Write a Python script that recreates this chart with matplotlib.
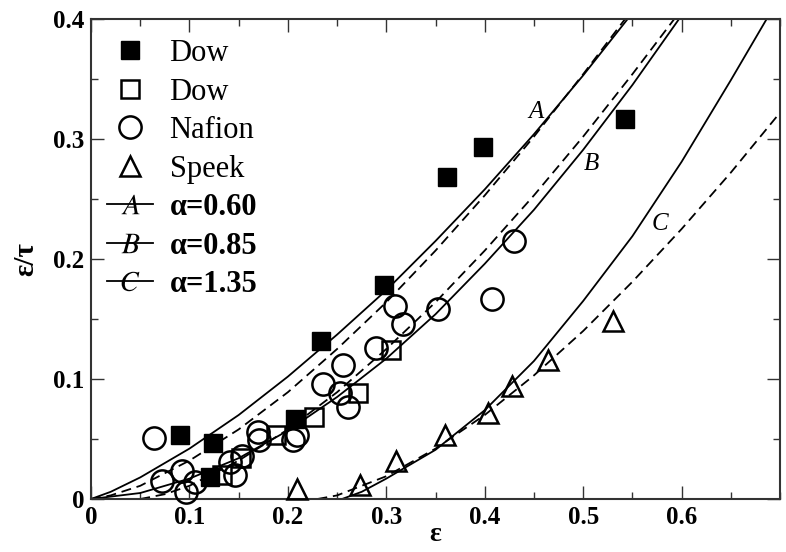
import matplotlib
matplotlib.use('Agg')
import matplotlib.pyplot as plt
from matplotlib.lines import Line2D
from matplotlib.ticker import MultipleLocator, FuncFormatter

plt.rcParams['font.family'] = ['Liberation Serif', 'DejaVu Serif']
plt.rcParams['mathtext.fontset'] = 'stix'

# ---------------- data ----------------
dow_filled_x = [0.090, 0.124, 0.121, 0.207, 0.234, 0.298, 0.362, 0.398, 0.542]
dow_filled_y = [0.053, 0.047, 0.018, 0.067, 0.132, 0.178, 0.268, 0.293, 0.317]

dow_open_x = [0.133, 0.152, 0.188, 0.227, 0.271, 0.305]
dow_open_y = [0.020, 0.034, 0.053, 0.068, 0.088, 0.124]

nafion_x = [0.064, 0.072, 0.092, 0.096, 0.106, 0.141, 0.153, 0.146, 0.170, 0.171,
            0.205, 0.209, 0.236, 0.253, 0.256, 0.261, 0.290, 0.309, 0.317, 0.353,
            0.407, 0.430]
nafion_y = [0.051, 0.015, 0.023, 0.006, 0.014, 0.031, 0.036, 0.020, 0.056, 0.049,
            0.049, 0.053, 0.096, 0.088, 0.112, 0.077, 0.126, 0.161, 0.146, 0.158,
            0.167, 0.215]

speek_x = [0.209, 0.273, 0.310, 0.360, 0.403, 0.428, 0.464, 0.530]
speek_y = [0.008, 0.012, 0.032, 0.053, 0.072, 0.094, 0.116, 0.148]

# model curves (solid and dashed)
solid_A_x = [0, 0.02, 0.05, 0.1, 0.15, 0.2, 0.25, 0.3, 0.35, 0.4, 0.45, 0.5, 0.55]
solid_A_y = [0, 0.006, 0.018, 0.042, 0.070, 0.102, 0.137, 0.174, 0.215, 0.258, 0.304, 0.353, 0.405]
dash_A_x = [0, 0.02, 0.05, 0.1, 0.15, 0.2, 0.25, 0.3, 0.35, 0.4, 0.45, 0.5, 0.55]
dash_A_y = [0, 0.003, 0.011, 0.032, 0.058, 0.089, 0.125, 0.164, 0.207, 0.253, 0.302, 0.354, 0.408]

solid_B_x = [0, 0.05, 0.1, 0.15, 0.2, 0.25, 0.3, 0.35, 0.4, 0.45, 0.5, 0.55, 0.6, 0.61]
solid_B_y = [0, 0.005, 0.017, 0.034, 0.057, 0.085, 0.117, 0.154, 0.196, 0.241, 0.291, 0.345, 0.403, 0.415]
dash_B_x = [0.05, 0.075, 0.1, 0.15, 0.2, 0.25, 0.3, 0.35, 0.4, 0.45, 0.5, 0.55, 0.6]
dash_B_y = [0, 0.004, 0.011, 0.032, 0.058, 0.089, 0.125, 0.164, 0.207, 0.253, 0.302, 0.354, 0.408]

solid_C_x = [0.255, 0.275, 0.3, 0.35, 0.4, 0.45, 0.5, 0.55, 0.6, 0.65, 0.69]
solid_C_y = [0, 0.006, 0.017, 0.041, 0.074, 0.115, 0.165, 0.219, 0.281, 0.349, 0.405]
dash_C_x = [0.23, 0.25, 0.3, 0.35, 0.4, 0.45, 0.5, 0.55, 0.6, 0.65, 0.7]
dash_C_y = [0, 0.003, 0.019, 0.042, 0.070, 0.103, 0.140, 0.181, 0.225, 0.272, 0.322]

curve_letters = ['A', 'B', 'C']
curve_alphas = ['α=0.60', 'α=0.85', 'α=1.35']
series_names = ['Dow', 'Dow', 'Nafion', 'Speek']

x_ticks = [0, 0.1, 0.2, 0.3, 0.4, 0.5, 0.6]
y_ticks = [0, 0.1, 0.2, 0.3, 0.4]

# ---------------- figure ----------------
fig = plt.figure(figsize=(7.86, 5.52), dpi=100)
ax = fig.add_axes([0.1158, 0.096, 0.8766, 0.8696])

lw = 1.3
dash = (5.5, 3.2)
for (sx, sy), (dx, dy) in [((solid_A_x, solid_A_y), (dash_A_x, dash_A_y)),
                           ((solid_B_x, solid_B_y), (dash_B_x, dash_B_y)),
                           ((solid_C_x, solid_C_y), (dash_C_x, dash_C_y))]:
    ax.plot(sx, sy, color='black', lw=lw, solid_capstyle='butt')
    ax.plot(dx, dy, color='black', lw=lw, dashes=dash)

mew = 1.8
ax.plot(dow_filled_x, dow_filled_y, 's', ms=13, mfc='black', mec='black', mew=1.0,
        clip_on=False, zorder=3)
ax.plot(dow_open_x, dow_open_y, 's', ms=13, mfc='none', mec='black', mew=mew,
        clip_on=False, zorder=3)
ax.plot(nafion_x, nafion_y, 'o', ms=16, mfc='none', mec='black', mew=mew,
        clip_on=False, zorder=3)
ax.plot(speek_x, speek_y, '^', ms=15, mfc='none', mec='black', mew=mew,
        clip_on=False, zorder=3)

# curve letters
letter_pos = [(0.452, 0.3225), (0.508, 0.279), (0.578, 0.229)]
for (lx, ly), s in zip(letter_pos, curve_letters):
    ax.text(lx, ly, s, style='italic', fontsize=18, ha='center', va='center')

ax.set_xlim(0, 0.7)
ax.set_ylim(0, 0.4)
ax.set_xticks(x_ticks)
ax.set_yticks(y_ticks)
ax.xaxis.set_minor_locator(MultipleLocator(0.05))
ax.yaxis.set_minor_locator(MultipleLocator(0.05))
fmt = FuncFormatter(lambda v, _: '0' if abs(v) < 1e-9 else f'{v:.1f}')
ax.xaxis.set_major_formatter(fmt)
ax.yaxis.set_major_formatter(fmt)
ax.tick_params(which='both', direction='in', top=True, right=True, color='#333333')
ax.tick_params(which='major', length=9.5, width=1.0, labelsize=18, pad=5)
ax.tick_params(which='minor', length=5, width=1.0)
for lab in ax.get_xticklabels() + ax.get_yticklabels():
    lab.set_fontweight('bold')
for sp in ax.spines.values():
    sp.set_linewidth(1.5)
    sp.set_color('#333333')

ax.set_xlabel('ε', fontsize=20, fontweight='bold', labelpad=-5)
ax.set_ylabel('ε/τ', fontsize=21, fontweight='bold', labelpad=10)

# legend
handles = [
    Line2D([], [], ls='none', marker='s', ms=13, mfc='black', mec='black', mew=1.0),
    Line2D([], [], ls='none', marker='s', ms=13, mfc='none', mec='black', mew=mew),
    Line2D([], [], ls='none', marker='o', ms=16, mfc='none', mec='black', mew=mew),
    Line2D([], [], ls='none', marker='^', ms=15, mfc='none', mec='black', mew=mew),
]
for s in curve_letters:
    handles.append(Line2D([], [], color='black', lw=lw, marker=f'$\\mathit{{{s}}}$',
                          ms=14, mfc='black', mec='black', mew=0))
labels = series_names + curve_alphas
leg = ax.legend(handles, labels, loc='upper left', bbox_to_anchor=(0.023, 0.958),
                frameon=False, fontsize=22, numpoints=1, handlelength=1.5,
                handletextpad=0.55, labelspacing=0.31, borderpad=0, borderaxespad=0)
for t in leg.get_texts()[4:]:
    t.set_fontweight('bold')

fig.savefig('out.png', dpi=100)
